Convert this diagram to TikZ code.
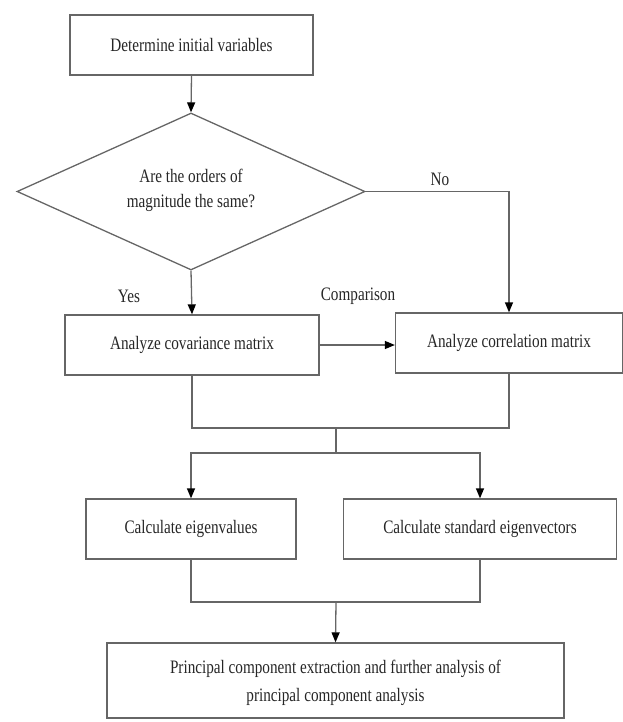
\documentclass[tikz,border=0pt]{standalone}
\usepackage{fontspec}
\setmainfont{Liberation Serif}[FakeStretch=0.8]
\usetikzlibrary{shapes.geometric,arrows.meta}
\begin{document}
\begin{tikzpicture}[x=1pt,y=-1pt,
  every node/.style={font=\fontsize{19}{22}\selectfont, text=black!85},
  box/.style={draw=black!60, line width=1.3pt, rectangle, inner sep=0pt, minimum height=60pt, align=center},
  dia/.style={draw=black!60, line width=1.3pt, diamond, inner sep=0pt, minimum width=348pt, minimum height=157pt},
  lbl/.style={inner sep=0pt, align=center},
  conn/.style={draw=black!60, line width=1.3pt},
  arr/.style={conn, -{Triangle[length=10pt,width=8pt,color=black]}}]
\useasboundingbox (0,0) rectangle (623,722);
\node[box, minimum width=243pt] (top) at (191.5,45) {Determine initial variables};
\node[dia] (q) at (191,191.5) {};
\node[lbl] (qt) at ([yshift=1pt]q.center) {Are the orders of\\[3pt]magnitude the same?};
\node[box, minimum width=254pt] (cov) at (192,345) {Analyze covariance matrix};
\node[box, minimum width=227pt] (cor) at (509,343) {Analyze correlation matrix};
\node[box, minimum width=210pt] (eig) at (191,529) {Calculate eigenvalues};
\node[box, minimum width=273pt] (std) at (480,529) {Calculate standard eigenvectors};
\node[box, minimum width=457pt, minimum height=75pt, text depth=0pt] (fin) at (335.5,680.5) {Principal component extraction and further analysis of\\[6pt]principal component analysis};
\node[lbl] (yes) at (129,296) {Yes};
\node[lbl] (no) at (440,179) {No};
\node[lbl] (cmp) at (358,296) {Comparison};
\coordinate (j1) at (336,428);
\coordinate (j2) at (336,453);
\coordinate (j3) at (336,602);
\draw[arr] (top.south) -- (q.north);
\draw[arr] (q.south) -- (cov.north);
\draw[arr] (q.east) -- (cor.north |- q.east) -- (cor.north);
\draw[arr] (cov.east) -- (cor.west |- cov.east);
\draw[conn] (cov.south) -- (cov.south |- j1) -- (cor.south |- j1) -- (cor.south);
\draw[conn] (j1) -- (j2);
\draw[arr] (j2) -- (eig.north |- j2) -- (eig.north);
\draw[arr] (j2) -- (std.north |- j2) -- (std.north);
\draw[conn] (eig.south) -- (eig.south |- j3) -- (std.south |- j3) -- (std.south);
\draw[arr] (j3) -- (fin.north);
\end{tikzpicture}
\end{document}
